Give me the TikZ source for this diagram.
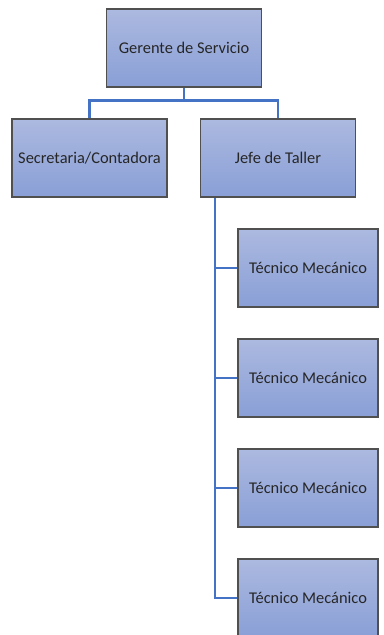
\documentclass[tikz,border=0pt]{standalone}
\usepackage{fontspec}
\setmainfont{Carlito}
\begin{document}
\begin{tikzpicture}[x=0.75pt,y=0.75pt,yscale=-1,xscale=1,
    puesto/.style={draw={rgb,255:red,80;green,80;blue,80},line width=0.8pt,
        top color={rgb,255:red,172;green,185;blue,224},bottom color={rgb,255:red,137;green,159;blue,214},
        minimum width=116.25pt,minimum height=58.5pt,inner sep=0pt,
        font=\fontsize{12.3}{14}\selectfont,text={rgb,255:red,38;green,38;blue,38}},
    tecnico/.style={puesto,minimum width=105pt},
    conector/.style={draw={rgb,255:red,68;green,114;blue,196},line width=1.6pt}]
        \useasboundingbox (0,0) rectangle (384,635);
        % Boxes
        \node [puesto] (gerente) at (184,48) {Gerente de Servicio};
        \node [puesto] (secretaria) at (89.5,158) {Secretaria/Contadora};
        \node [puesto] (jefe) at (278,158) {Jefe de Taller};
        \foreach \i/\y in {1/268,2/378,3/488,4/598}
            \node [tecnico] (tec\i) at (308,\y) {Técnico Mecánico};
        
        % Lines
        \draw [conector] (gerente.south) -- ++(0,13) coordinate (bus);
        \draw [conector] (secretaria.north) |- (bus) -| (jefe.north);
        \coordinate (espina) at ([xshift=11.25pt]jefe.south west);
        \draw [conector] (espina) |- (tec4.west);
        \foreach \i in {1,2,3}
            \draw [conector] (espina |- tec\i.west) -- (tec\i.west);
\end{tikzpicture}
\end{document}
